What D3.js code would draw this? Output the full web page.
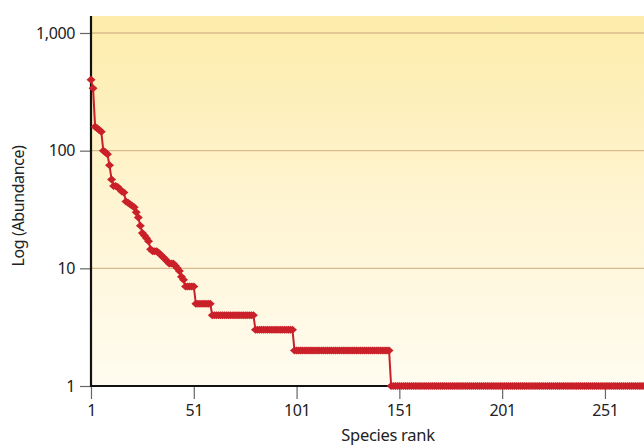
<!DOCTYPE html>
<html><head><meta charset="utf-8">
<script src="https://cdn.jsdelivr.net/npm/d3@7"></script>
<style>body{margin:0;background:#fff;}svg{display:block;}</style>
</head><body>
<script>
// Abundance by species rank (ranks 1..)
const topAbundance = [400, 340, 160, 155, 150, 145, 100, 97, 93, 75, 57, 50, 50, 49, 47, 45, 44, 37, 36, 35, 34, 33, 30, 27, 23, 20, 19, 18, 17, 14.5, 14, 14, 14, 13.5, 13, 12.5, 12, 11.5, 11, 11, 11, 10.5, 10, 9.5, 8.5, 8];
// plateaus: [abundance, number of species]
const plateaus = [[7, 5], [5, 8], [4, 21], [3, 19], [2, 47], [1, 126]];
const xTicks = [1, 51, 101, 151, 201, 251];
const yTicks = [1, 10, 100, 1000];

const abundance = topAbundance.slice();
plateaus.forEach(([v, n]) => { for (let i = 0; i < n; i++) abundance.push(v); });
const data = abundance.map((v, i) => ({rank: i + 1, value: v}));

const W = 644, H = 448;
const L = 91, R = 644, T = 16, B = 386;
const svg = d3.select("body").append("svg").attr("width", W).attr("height", H);
const font = "'Noto Sans', sans-serif";

const x = d3.scaleLinear().domain([1, 270]).range([L, R]);
const y = d3.scaleLog().domain([1, Math.pow(10, 3 + (33 - 16) / 117.7)]).range([B, T]);

const defs = svg.append("defs");
const g = defs.append("linearGradient").attr("id", "bg").attr("x1", 0).attr("y1", 0).attr("x2", 0).attr("y2", 1);
g.append("stop").attr("offset", "0%").attr("stop-color", "#fdecaa");
g.append("stop").attr("offset", "55%").attr("stop-color", "#fff5d5");
g.append("stop").attr("offset", "100%").attr("stop-color", "#fffcf0");
defs.append("clipPath").attr("id", "clip").append("rect").attr("x", L - 6).attr("y", T).attr("width", R - L + 6).attr("height", B - T + 6);

svg.append("rect").attr("x", L).attr("y", T).attr("width", R - L).attr("height", B - T).attr("fill", "url(#bg)");

// gridlines
svg.append("g").selectAll("line").data(yTicks.filter(d => d > 1)).join("line")
  .attr("x1", L).attr("x2", R).attr("y1", d => y(d)).attr("y2", d => y(d))
  .attr("stroke", "#d9bb8c").attr("stroke-width", 1.3);

// axes
const xAxis = svg.append("g").attr("transform", `translate(0,${B})`)
  .call(d3.axisBottom(x).tickValues(xTicks).tickSize(13).tickPadding(6).tickFormat(d3.format("d")));
xAxis.select(".domain").remove();
xAxis.selectAll(".tick line").attr("stroke", "#666").attr("stroke-width", 1.2);
xAxis.selectAll(".tick text").attr("font-family", font).attr("font-size", 16).attr("letter-spacing", "-0.4px").attr("fill", "#222");

const yAxis = svg.append("g").attr("transform", `translate(${L},0)`)
  .call(d3.axisLeft(y).tickValues(yTicks).tickSize(11).tickPadding(5).tickFormat(d3.format(",")));
yAxis.select(".domain").remove();
yAxis.selectAll(".tick line").attr("stroke", "#666").attr("stroke-width", 1.2);
yAxis.selectAll(".tick text").attr("font-family", font).attr("font-size", 16).attr("letter-spacing", "-0.4px").attr("fill", "#222");

svg.append("line").attr("x1", L).attr("x2", R).attr("y1", B).attr("y2", B).attr("stroke", "#111").attr("stroke-width", 2);
svg.append("line").attr("x1", L).attr("x2", L).attr("y1", T).attr("y2", B + 1).attr("stroke", "#111").attr("stroke-width", 2.2);

// series
const red = "#c9202a";
const plot = svg.append("g").attr("clip-path", "url(#clip)");
plot.append("path").datum(data)
  .attr("d", d3.line().x(d => x(d.rank)).y(d => y(d.value)))
  .attr("fill", "none").attr("stroke", red).attr("stroke-width", 2);
plot.append("g").selectAll("path").data(data).join("path")
  .attr("transform", d => `translate(${x(d.rank)},${y(d.value)})`)
  .attr("d", "M-4.5,0L0,-4L4.5,0L0,4Z")
  .attr("fill", red);

// titles
svg.append("text").attr("x", 388).attr("y", 441).attr("text-anchor", "middle")
  .attr("font-family", font).attr("font-size", 16.5).attr("letter-spacing", "-0.3px").attr("fill", "#222").text("Species rank");
svg.append("text").attr("transform", "translate(24,206) rotate(-90)").attr("text-anchor", "middle")
  .attr("font-family", font).attr("font-size", 16).attr("letter-spacing", "-0.4px").attr("fill", "#222").text("Log (Abundance)");
</script>
</body></html>
